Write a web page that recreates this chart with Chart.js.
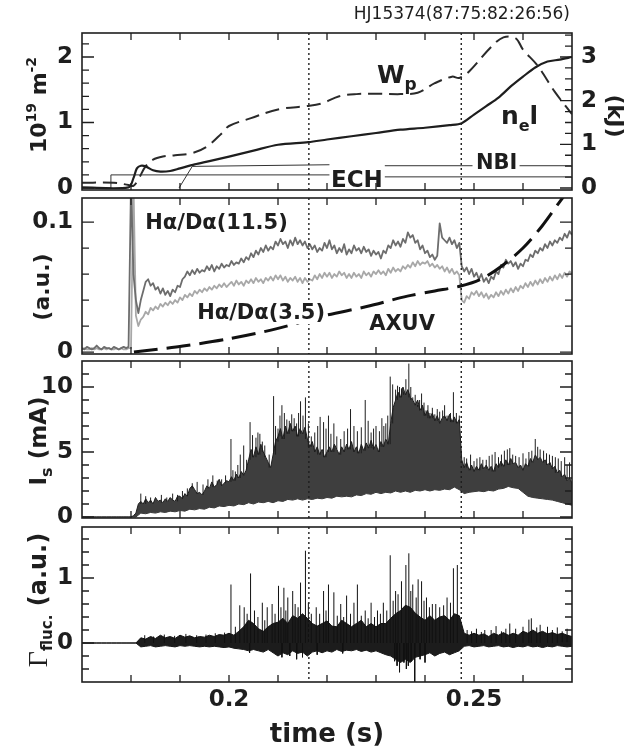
<!DOCTYPE html>
<html><head><meta charset="utf-8">
<script src="https://cdn.jsdelivr.net/npm/chart.js@4.4.1/dist/chart.umd.min.js"></script>
<style>
html,body{margin:0;padding:0;background:#fff;}
#wrap{position:relative;width:639px;height:751px;overflow:hidden;background:#fff;}
#wrap canvas{position:absolute;left:0;top:0;width:639px;height:751px;}
</style></head><body>
<div id="wrap">
<canvas id="c1" width="639" height="751"></canvas>
<canvas id="c2" width="639" height="751"></canvas>
<canvas id="c3" width="639" height="751"></canvas>
<canvas id="c4" width="639" height="751"></canvas>
</div>
<script>
// ---------------- shared time axis ----------------
const X_MIN = 0.17, X_MAX = 0.27;
const X_TICKS = [0.17,0.18,0.19,0.20,0.21,0.22,0.23,0.24,0.25,0.26,0.27];
const X_LABELED = [0.2, 0.25];
const MARKERS = [0.2163, 0.2474];            // dotted vertical lines (s)

// ---------------- panel 1 : line density / stored energy ----------------
const NEL_T = [0.170,0.1795,0.1805,0.1812,0.182,0.183,0.1845,0.186,0.188,0.190,
               0.193,0.196,0.200,0.205,0.210,0.2162,0.220,0.225,0.230,0.235,
               0.240,0.245,0.2475,0.250,0.2525,0.255,0.2575,0.260,0.2625,0.265,
               0.2675,0.270];
const NEL   = [0.01,0.01,0.15,0.30,0.34,0.33,0.27,0.25,0.26,0.30,
               0.36,0.41,0.48,0.57,0.66,0.70,0.74,0.79,0.84,0.89,
               0.92,0.96,0.99,1.12,1.25,1.38,1.55,1.70,1.84,1.93,
               1.96,2.00];
const WP_T  = [0.170,0.1765,0.1795,0.1805,0.1815,0.183,0.1845,0.1865,0.189,0.1925,
               0.1955,0.1985,0.200,0.2045,0.210,0.2162,0.219,0.2225,0.226,0.230,
               0.235,0.2385,0.242,0.2455,0.247,0.249,0.2535,0.256,0.2585,0.260,
               0.263,0.2665,0.270];
const WP    = [0.12,0.12,0.07,0.05,0.20,0.50,0.65,0.72,0.75,0.80,
               0.95,1.25,1.42,1.60,1.80,1.88,1.94,2.10,2.15,2.16,
               2.15,2.18,2.40,2.55,2.52,2.67,3.23,3.45,3.43,3.17,
               2.80,2.20,1.69];                 // kJ
const ECH_T = [0.170,0.1758,0.1759,0.2205,0.2260,0.2318,0.2699];
const ECH   = [0.0,0.0,0.20,0.20,null,0.17,0.17];
const NBI_T = [0.1898,0.1925,0.2205,0.2260,0.2318,0.2497,0.2545,0.2593,0.2699];
const NBI   = [0.0,0.33,0.355,null,0.34,0.34,null,0.34,0.34];
const P1_TICKS  = [0,0.2,0.4,0.6,0.8,1.0,1.2,1.4,1.6,1.8,2.0,2.2];
const P1_LABELS = [0,1,2];
const P1R_TICKS  = [0,0.25,0.5,0.75,1.0,1.25,1.5,1.75,2.0,2.25,2.5,2.75,3.0,3.25,3.5];
const P1R_LABELS = [0,1,2,3];

// ---------------- panel 2 : H-alpha / D-alpha, AXUV ----------------
const HA_T0 = 0.170, HA_DT = 0.0005;         // sampling of the two H-alpha traces
const HA115 = [ // x1e-3 a.u.
  3,2,4,3,2,3,5,3,2,4,   3,3,2,4,3,2,3,4,3,4,
  130,60,40,30,40,47,54,56,51,53,   48,50,45,49,44,47,43,48,46,51,
  50,56,58,62,59,63,60,64,61,63,   62,66,63,67,62,66,64,68,65,67,
  66,70,67,69,68,72,69,73,71,76,   73,78,75,80,77,82,78,81,79,85,
  82,87,83,85,80,86,82,88,83,86,   82,85,80,83,79,82,77,80,78,84,
  80,86,79,82,76,80,77,83,75,79,   76,82,78,80,76,81,77,79,74,78,
  75,77,72,78,76,82,80,86,82,85,   81,87,84,92,88,90,84,86,79,82,
  76,78,73,75,71,74,99,88,86,84,   88,83,86,80,84,66,62,65,60,64,
  58,61,56,60,54,57,53,58,56,62,   60,67,65,71,68,70,66,69,64,68,
  66,71,70,75,73,78,76,80,78,83,   80,85,82,86,84,88,86,91,88,93,
  90];
const HA35 = [ // x1e-3 a.u.
  2,3,2,2,3,2,3,2,2,3,   2,3,2,2,3,2,3,2,2,3,
  3,130,28,20,25,27,31,29,34,32,   35,33,37,35,38,36,39,37,40,38,
  42,40,44,42,45,43,47,45,48,46,   49,47,50,48,51,49,52,50,53,50,
  52,54,51,55,52,54,51,55,53,56,   53,57,54,56,53,57,55,58,55,59,
  56,59,55,58,54,57,55,58,54,57,   53,57,54,56,55,59,56,60,57,61,
  58,61,57,60,58,62,59,61,57,60,   57,61,58,60,57,62,59,61,58,62,
  60,63,60,62,59,64,61,65,62,64,   62,66,64,67,65,69,66,70,67,69,
  68,70,66,68,65,67,64,66,62,65,   61,64,60,62,59,40,38,43,41,46,
  44,47,43,46,42,45,41,44,42,46,   43,47,44,48,45,49,46,50,47,51,
  49,53,50,54,51,55,52,56,53,57,   54,58,55,59,56,60,57,61,58,62,
  60];
const AXUV_T = [0.1806,0.1850,0.1906,0.2000,0.2098,0.2190,0.2281,0.2364,0.2420,0.2471,
                0.2514,0.2556,0.2600,0.2639,0.2673,0.2700];
const AXUV   = [0,0.002,0.0046,0.0102,0.018,0.0276,0.035,0.043,0.047,0.0506,
                0.056,0.066,0.080,0.097,0.1146,0.128];
const P2_TICKS  = [0,0.02,0.04,0.06,0.08,0.1];
const P2_LABELS = [0,0.1];

// ---------------- panel 3 : ion saturation current (mA) ----------------
const IS_T0 = 0.170, IS_DT = 0.0005;         // band top sampling
const IS_UPPER = [
  0,0,0,0,0,0,0,0,0,0, 0,0,0,0,0,0,0,0,0,0, 0,0.1,
  0.3,1.0,
  1.2,1.0,1.4,1.1,1.3,1.0,1.5,1.2,1.3,1.1,1.4,1.2,1.5,1.3,1.2,1.6,
  1.6,1.4,1.8,1.6,2.2,2.4,2.1,1.8,1.9,1.7,
  2.0,2.4,2.2,2.7,2.3,2.5,2.9,2.4,2.6,2.8,
  2.7,3.1,2.8,3.3,3.0,3.5,3.2,3.6,
  4.4,5.2,4.6,5.4,4.8,5.6,5.0,4.6,4.2,3.8,
  4.8,5.8,6.2,6.8,6.0,7.0,6.4,7.2,6.6,7.0,6.2,6.8,6.4,6.9,
  6.0,5.4,5.8,5.0,5.4,4.8,5.2,4.6,5.0,5.4,5.0,5.6,5.2,
  4.8,5.4,5.0,5.6,5.2,5.8,5.0,5.4,4.9,5.6,5.1,5.7,5.3,5.9,5.2,5.6,5.0,5.8,5.4,6.0,5.6,
  7.2,8.4,9.0,9.6,9.2,10.0,9.4,9.8,9.2,
  9.0,8.6,9.0,8.2,8.6,7.8,8.2,7.6,8.0,7.4,7.8,7.2,7.6,7.8,7.4,7.9,7.3,7.7,7.2,7.5,
  4.4,3.8,4.2,3.6,4.0,3.5,3.9,3.6,4.1,3.7,
  4.0,3.6,3.9,3.5,4.1,3.8,4.3,3.9,4.4,4.0,
  4.5,4.1,4.2,3.8,4.0,3.6,4.1,3.9,4.5,4.2,
  4.8,4.4,4.6,4.2,4.4,4.0,4.2,3.7,3.9,3.4,
  3.6,3.1,3.3,2.8,3.0,2.6];
const IS_LO_T0 = 0.170, IS_LO_DT = 0.001;    // band bottom sampling
const IS_LOWER = [
  0,0,0,0,0,0,0,0,0,0,0,0,
  0.3,0.25,0.35,0.3,0.4,0.35,0.45,0.4,0.5,0.45,
  0.6,0.55,0.65,0.6,0.75,0.7,0.85,0.8,0.9,0.85,
  1.0,0.95,1.1,1.0,1.15,1.1,1.2,1.1,1.25,1.2,
  1.35,1.3,1.4,1.3,1.4,1.35,1.45,1.4,1.5,1.45,
  1.6,1.55,1.6,1.55,1.7,1.65,1.8,1.75,1.9,1.8,
  1.9,1.85,2.0,1.9,2.0,1.9,2.05,2.0,2.1,2.0,
  2.1,2.05,2.15,2.1,2.3,2.1,1.8,1.9,1.95,2.0,
  1.95,2.05,2.0,2.15,2.2,2.35,2.25,2.2,1.9,1.6,
  1.5,1.45,1.4,1.35,1.3,1.2,1.1,1.0,0.9];
const IS_SPIKE_T = [
  0.1820,0.1840,0.1862,0.1885,0.1905,0.1925,0.1947,0.1967,0.1985,0.2004,
  0.2013,0.2023,0.2030,0.2043,0.2055,0.2063,0.2073,0.2091,0.2100,0.2108,
  0.2118,0.2128,0.2138,0.2146,0.2156,0.2168,0.2186,0.2193,0.2203,0.2214,
  0.2228,0.2248,0.2262,0.2278,0.2290,0.2300,0.2312,0.2320,0.2329,0.2340,
  0.2348,0.2356,0.2367,0.2375,0.2385,0.2393,0.2402,0.2410,0.2420,0.2430,
  0.2445,0.2458,0.2470,0.2485,0.2500,0.2512,0.2525,0.2537,0.2550,0.2562,
  0.2573,0.2585,0.2600,0.2612,0.2625,0.2635,0.2648,0.2660,0.2672,0.2685,0.2695];
const IS_SPIKE_TOP = [
  1.8,1.5,1.7,1.8,2.0,2.6,2.5,3.2,2.9,6.0,
  3.5,4.8,5.5,7.3,6.1,6.4,5.5,9.3,6.8,8.6,
  7.5,7.9,7.2,8.9,9.2,6.2,7.7,7.3,7.8,7.2,
  6.0,8.3,6.6,9.0,6.5,7.0,7.6,7.2,10.8,9.8,
  10.0,9.6,11.8,9.2,8.5,9.5,8.2,8.0,7.9,8.1,
  7.8,9.6,7.8,4.5,4.3,4.6,4.4,4.8,4.6,5.1,
  5.3,4.7,4.9,5.0,6.0,5.2,4.9,4.7,4.5,4.6,4.2];
const IS_FUZZ_T = [
  0.1830,0.1873,0.1895,0.1915,0.1935,0.1957,0.1976,0.1993,0.2008,0.2018,
  0.2036,0.2048,0.2059,0.2068,0.2082,0.2095,0.2104,0.2113,0.2123,0.2133,
  0.2142,0.2151,0.2162,0.2175,0.2181,0.2198,0.2208,0.2220,0.2235,0.2242,
  0.2255,0.2270,0.2284,0.2295,0.2307,0.2316,0.2324,0.2334,0.2344,0.2352,
  0.2361,0.2371,0.2380,0.2389,0.2398,0.2406,0.2415,0.2425,0.2436,0.2440,
  0.2452,0.2464,0.2480,0.2493,0.2506,0.2518,0.2531,0.2543,0.2556,0.2568,
  0.2579,0.2592,0.2606,0.2618,0.2630,0.2642,0.2654,0.2666,0.2678,0.2690];
const IS_FUZZ_TOP = [
  1.6,1.5,1.7,2.2,2.7,2.9,2.8,3.2,3.6,4.0,
  4.4,6.3,6.5,5.8,4.8,7.0,7.8,8.0,7.4,7.6,
  8.0,7.8,7.2,6.5,7.0,6.8,6.4,6.2,6.6,6.8,
  7.0,6.9,7.4,6.8,6.6,7.0,7.8,10.2,10.1,9.9,
  10.6,10.0,9.4,9.0,8.8,8.6,8.4,8.3,8.2,8.6,
  8.0,8.0,4.6,4.8,4.5,4.4,4.7,5.0,4.8,5.2,
  4.8,4.6,4.5,5.1,5.4,5.1,4.8,4.6,4.3,4.0];
const P3_TICKS  = [0,1,2,3,4,5,6,7,8,9,10,11];
const P3_LABELS = [0,5,10];

// ---------------- panel 4 : fluctuation-driven flux ----------------
const GF_T0 = 0.170, GF_DT = 0.001;
const GF_UPPER = [
  0,0,0,0,0,0,0,0,0,0,0,0,
  0.08,0.06,0.10,0.07,0.12,0.08,0.10,0.07,0.12,0.09,
  0.11,0.08,0.10,0.09,0.12,0.10,0.13,0.12,0.15,0.12,
  0.18,0.25,0.35,0.30,0.22,0.18,0.25,0.30,0.32,0.38,
  0.30,0.42,0.38,0.45,0.38,0.30,0.26,0.30,0.34,0.26,
  0.25,0.35,0.30,0.25,0.30,0.35,0.25,0.30,0.25,0.30,
  0.30,0.38,0.45,0.50,0.58,0.55,0.46,0.40,0.35,0.42,
  0.35,0.40,0.42,0.35,0.45,0.42,0.15,0.12,0.15,0.12,
  0.14,0.10,0.15,0.12,0.16,0.12,0.15,0.12,0.18,0.15,
  0.20,0.15,0.18,0.14,0.16,0.13,0.15,0.12,0.10];
const GF_LOWER = [
  0,0,0,0,0,0,0,0,0,0,0,0,
  -0.06,-0.05,-0.04,-0.06,-0.05,-0.04,-0.05,-0.06,-0.04,-0.05,
  -0.04,-0.05,-0.06,-0.05,-0.06,-0.05,-0.06,-0.07,-0.06,-0.08,
  -0.09,-0.10,-0.12,-0.10,-0.12,-0.14,-0.10,-0.15,-0.20,-0.15,
  -0.18,-0.12,-0.16,-0.14,-0.20,-0.14,-0.12,-0.15,-0.12,-0.14,
  -0.10,-0.13,-0.11,-0.12,-0.10,-0.13,-0.11,-0.14,-0.12,-0.15,
  -0.18,-0.20,-0.25,-0.30,-0.25,-0.30,-0.22,-0.20,-0.18,-0.15,
  -0.20,-0.16,-0.14,-0.18,-0.15,-0.12,-0.05,-0.04,-0.06,-0.05,
  -0.04,-0.06,-0.05,-0.04,-0.06,-0.05,-0.07,-0.05,-0.06,-0.04,
  -0.06,-0.05,-0.07,-0.05,-0.06,-0.04,-0.05,-0.06,-0.05];
const GF_SPIKE_T = [
  0.2004,0.2022,0.2031,0.2044,0.2052,0.2068,0.2078,0.2088,0.2101,0.2112,
  0.2120,0.2124,0.2130,0.2146,0.2150,0.2156,0.2162,0.2178,0.2193,0.2203,
  0.2214,0.2228,0.2240,0.2255,0.2262,0.2278,0.2290,0.2303,0.2315,0.2329,
  0.2340,0.2348,0.2352,0.2357,0.2361,0.2366,0.2367,0.2375,0.2379,0.2386,
  0.2393,0.2403,0.2415,0.2430,0.2445,0.2458,0.2466,0.2486,0.2505,0.2522,
  0.2545,0.2565,0.2573,0.2600,0.2612,0.2617,0.2635,0.2650,0.2670,0.2690];
const GF_SPIKE_Y = [
  0.90,0.58,0.55,1.07,0.50,0.62,0.55,0.60,0.88,0.85,
  0.70,-0.20,0.80,0.93,-0.22,1.42,0.62,0.55,0.80,0.90,
  0.78,0.60,0.73,0.62,0.90,0.50,0.62,0.50,0.62,1.35,
  0.80,-0.45,0.95,-0.30,1.20,-0.35,1.38,0.90,-0.70,0.98,
  0.95,0.70,0.60,0.55,0.70,1.15,1.20,0.20,0.22,0.20,
  0.26,0.22,0.30,0.25,0.36,0.38,0.28,0.25,0.24,0.22];
const GF_FUZZ_T = [
  0.1828,0.1846,0.1868,0.1889,0.1912,0.1934,0.1953,0.1972,0.1991,0.2013,
  0.2037,0.2059,0.2073,0.2094,0.2106,0.2116,0.2135,0.2141,0.2168,0.2185,
  0.2198,0.2221,0.2234,0.2248,0.2270,0.2284,0.2297,0.2309,0.2322,0.2335,
  0.2345,0.2371,0.2382,0.2398,0.2409,0.2422,0.2438,0.2452,0.2495,0.2515,
  0.2535,0.2556,0.2585,0.2628,0.2660,0.2680,
  0.2042,0.2108,0.2138,0.2180,0.2232,0.2338,0.2343,0.2362,0.2372,0.2390,0.2400];
const GF_FUZZ_Y = [
  0.12,0.10,0.13,0.11,0.14,0.12,0.13,0.15,0.16,0.25,
  0.45,0.40,0.35,0.45,0.55,0.50,0.60,0.55,0.45,0.45,
  0.50,0.42,0.40,0.45,0.42,0.38,0.40,0.45,0.50,0.65,
  0.75,0.80,0.70,0.65,0.55,0.60,0.58,0.62,0.18,0.17,
  0.20,0.18,0.22,0.24,0.20,0.18,
  -0.15,-0.22,-0.25,-0.18,-0.16,-0.28,-0.35,-0.40,-0.28,-0.25,-0.30];
const P4_TICKS  = [-0.4,-0.2,0,0.2,0.4,0.6,0.8,1.0,1.2,1.4,1.6];
const P4_LABELS = [0,1];

// ---------------- helpers ----------------
Chart.defaults.font.family = "'DejaVu Sans', sans-serif";
const INK = '#1e1e1e';
const FONT = (size, weight = 'bold', fam = "'DejaVu Sans'") => `${weight} ${size}px ${fam}`;
const fmt = v => String(+v.toFixed(4));
const hasLabel = (list, v) => list.some(l => Math.abs(l - v) < 1e-9);
const pts = (ts, ys) => ts.map((t, i) => ({x: t, y: ys[i]}));
const series = (t0, dt, arr, k = 1) => arr.map((v, i) => ({x: t0 + i * dt, y: v == null ? null : v * k}));
// vertical spike segments; each one starts at a base value (a number, or a lookup function)
const spikes = (ts, ys, base) => {
  const out = [];
  ts.forEach((t, i) => {
    const b = typeof base === 'function' ? base(t) : base;
    out.push({x: t, y: b}, {x: t, y: ys[i]}, {x: t, y: null});
  });
  return out;
};
// band-top value read at the samples bracketing t (lookup of the read values)
const isTopAt = t => {
  const k = (t - IS_T0) / IS_DT;
  return Math.min(IS_UPPER[Math.floor(k)], IS_UPPER[Math.ceil(k)]);
};

function yAxis(pos, min, max, ticks, labels, width) {
  return {
    type: 'linear', position: pos, min, max, bounds: 'data',
    grid: {display: false, drawTicks: false}, border: {display: false},
    afterBuildTicks(s) { s.ticks = ticks.map(v => ({value: v})); },
    afterFit(s) { s.width = width; },
    ticks: {autoSkip: false, padding: 9, color: INK, font: {size: 23, weight: 'bold'},
      callback: v => hasLabel(labels, v) ? fmt(v) : ''}
  };
}
function xAxis(show) {
  const ax = {
    type: 'linear', min: X_MIN, max: X_MAX, bounds: 'data', offset: false, display: show,
    grid: {display: false, drawTicks: false}, border: {display: false},
    afterBuildTicks(s) { s.ticks = X_TICKS.map(v => ({value: v})); },
    ticks: {autoSkip: false, maxRotation: 0, minRotation: 0, padding: 4, color: INK,
      font: {size: 23, weight: 'bold'}, callback: v => hasLabel(X_LABELED, v) ? fmt(v) : ''},
    title: {display: show, text: 'time (s)', color: INK,
      font: {size: 26, weight: 'bold', lineHeight: 1.2}, padding: {top: 0, bottom: 0}}
  };
  if (show) ax.afterFit = s => { s.height = 69; };
  return ax;
}
function drawRich(ctx, parts, x, y, align, rot, bg) {
  ctx.save();
  ctx.translate(x, y);
  if (rot) ctx.rotate(rot);
  ctx.textBaseline = 'middle';
  let w = 0;
  parts.forEach(p => { ctx.font = p[1]; w += ctx.measureText(p[0]).width; });
  let cx = align === 'center' ? -w / 2 : (align === 'right' ? -w : 0);
  if (bg) { ctx.fillStyle = '#fff'; ctx.fillRect(cx - 2, -11, w + 4, 22); }
  ctx.fillStyle = INK;
  parts.forEach(p => { ctx.font = p[1]; ctx.fillText(p[0], cx, p[2] || 0); cx += ctx.measureText(p[0]).width; });
  ctx.restore();
}
function panelPlugin(texts) {
  return {
    id: 'panelDecor',
    afterDatasetsDraw(chart) {
      const {ctx, chartArea: a, scales} = chart;
      const xs = scales.x, ys = scales.y, rs = scales.y1 || scales.y;
      ctx.save();
      ctx.strokeStyle = INK;
      ctx.lineWidth = 1.4; ctx.setLineDash([2, 3]);
      MARKERS.forEach(t => {
        const px = xs.getPixelForValue(t);
        ctx.beginPath(); ctx.moveTo(px, a.top); ctx.lineTo(px, a.bottom); ctx.stroke();
      });
      ctx.setLineDash([]);
      ctx.lineWidth = 1.3;
      ctx.beginPath();
      X_TICKS.forEach(v => {
        if (v <= X_MIN + 1e-9 || v >= X_MAX - 1e-9) return;
        const px = xs.getPixelForValue(v);
        ctx.moveTo(px, a.top); ctx.lineTo(px, a.top + 7);
        ctx.moveTo(px, a.bottom); ctx.lineTo(px, a.bottom - 7);
      });
      ys.ticks.forEach(t => {
        const py = ys.getPixelForValue(t.value), L = t.label ? 12 : 7;
        ctx.moveTo(a.left, py); ctx.lineTo(a.left + L, py);
      });
      rs.ticks.forEach(t => {
        const py = rs.getPixelForValue(t.value), L = t.label ? 12 : 7;
        ctx.moveTo(a.right, py); ctx.lineTo(a.right - L, py);
      });
      ctx.stroke();
      ctx.lineWidth = 1.6;
      ctx.strokeRect(a.left, a.top, a.right - a.left, a.bottom - a.top);
      texts.forEach(tx => {
        let x, y;
        if (tx.data) { x = xs.getPixelForValue(tx.data[0]); y = scales[tx.axis || 'y'].getPixelForValue(tx.data[1]); }
        else { x = tx.page[0]; y = tx.page[1]; }
        drawRich(ctx, tx.parts, x, y, tx.align || 'left', tx.rot || 0, tx.bg);
      });
      ctx.restore();
    }
  };
}
function makeChart(id, datasets, padding, scales, texts) {
  return new Chart(document.getElementById(id), {
    type: 'line',
    data: {datasets},
    options: {
      responsive: false, animation: false, devicePixelRatio: 1, events: [],
      layout: {padding},
      scales,
      elements: {point: {radius: 0}, line: {borderJoinStyle: 'round'}},
      plugins: {legend: {display: false}, tooltip: {enabled: false}}
    },
    plugins: [panelPlugin(texts)]
  });
}

// ---------------- panel 1 ----------------
makeChart('c1', [
  {data: pts(NEL_T, NEL), borderColor: INK, borderWidth: 2.2, tension: 0.3, yAxisID: 'y'},
  {data: pts(WP_T, WP), borderColor: '#2a2a2a', borderWidth: 2, borderDash: [14, 7], tension: 0.35, yAxisID: 'y1'},
  {data: pts(NBI_T, NBI), borderColor: '#333', borderWidth: 1, yAxisID: 'y'},
  {data: pts(ECH_T, ECH), borderColor: '#333', borderWidth: 1, yAxisID: 'y'}
], {top: 33, bottom: 561, left: 0, right: 0}, {
  x: xAxis(false),
  y: yAxis('left', -0.0305, 2.366, P1_TICKS, P1_LABELS, 82),
  y1: yAxis('right', -0.046, 3.55, P1R_TICKS, P1R_LABELS, 67)
}, [
  {page: [570, 15], align: 'right', parts: [['HJ15374(87:75:82:26:56)', FONT(17, 'normal')]]},
  {page: [40, 105], align: 'center', rot: -Math.PI / 2,
   parts: [['10', FONT(22)], ['19', FONT(14), -8], [' m', FONT(22)], ['-2', FONT(14), -8]]},
  {page: [614, 116], align: 'center', rot: Math.PI / 2, parts: [['(kJ)', FONT(22)]]},
  {data: [0.2302, 1.695], parts: [['W', FONT(25)], ['p', FONT(17), 9]]},
  {data: [0.2555, 1.07], parts: [['n', FONT(25)], ['e', FONT(16), 9], ['l', FONT(25)]]},
  {data: [0.2504, 0.366], parts: [['NBI', FONT(21)]]},
  {data: [0.2208, 0.107], parts: [['ECH', FONT(23)]]}
]);

// ---------------- panel 2 ----------------
makeChart('c2', [
  {data: pts(AXUV_T, AXUV), borderColor: '#111', borderWidth: 3, borderDash: [24, 9], tension: 0.3},
  {data: series(HA_T0, HA_DT, HA115, 1e-3), borderColor: '#6d6d6d', borderWidth: 1.8},
  {data: series(HA_T0, HA_DT, HA35, 1e-3), borderColor: '#a8a8a8', borderWidth: 1.8}
], {top: 198, bottom: 397, left: 0, right: 67}, {
  x: xAxis(false),
  y: yAxis('left', -0.0015, 0.1185, P2_TICKS, P2_LABELS, 82)
}, [
  {page: [43, 287], align: 'center', rot: -Math.PI / 2, parts: [['(a.u.)', FONT(22)]]},
  {data: [0.1829, 0.0985], parts: [['H\u03b1/D\u03b1(11.5)', FONT(21)]]},
  {data: [0.1935, 0.030], parts: [['H\u03b1/D\u03b1(3.5)', FONT(21)]], bg: true},
  {data: [0.2286, 0.0208], parts: [['AXUV', FONT(21)]]}
]);

// ---------------- panel 3 ----------------
makeChart('c3', [
  {data: spikes(IS_SPIKE_T, IS_SPIKE_TOP, isTopAt), borderColor: INK, borderWidth: 1},
  {data: spikes(IS_FUZZ_T, IS_FUZZ_TOP, isTopAt), borderColor: INK, borderWidth: 1},
  {data: series(IS_T0, IS_DT, IS_UPPER), borderColor: INK, borderWidth: 1, fill: '+1', backgroundColor: '#3e3e3e'},
  {data: series(IS_LO_T0, IS_LO_DT, IS_LOWER), borderColor: '#333', borderWidth: 1}
], {top: 361, bottom: 233, left: 0, right: 67}, {
  x: xAxis(false),
  y: yAxis('left', -0.077, 12.0, P3_TICKS, P3_LABELS, 82)
}, [
  {page: [40, 441], align: 'center', rot: -Math.PI / 2,
   parts: [['I', FONT(23)], ['s', FONT(16), 8], [' (mA)', FONT(23)]]}
]);

// ---------------- panel 4 ----------------
makeChart('c4', [
  {data: spikes(GF_SPIKE_T, GF_SPIKE_Y, 0), borderColor: '#111', borderWidth: 1},
  {data: spikes(GF_FUZZ_T, GF_FUZZ_Y, 0), borderColor: '#111', borderWidth: 1},
  {data: series(GF_T0, GF_DT, GF_UPPER), borderColor: '#111', borderWidth: 1, fill: '+1', backgroundColor: '#1c1c1c'},
  {data: series(GF_T0, GF_DT, GF_LOWER), borderColor: '#111', borderWidth: 1}
], {top: 527, bottom: 0, left: 0, right: 67}, {
  x: xAxis(true),
  y: yAxis('left', -0.6, 1.785, P4_TICKS, P4_LABELS, 82)
}, [
  {page: [40, 600], align: 'center', rot: -Math.PI / 2,
   parts: [['\u0393', "normal 28px 'Liberation Serif'"], ['fluc.', FONT(15), 8], [' (a.u.)', FONT(24)]]}
]);
</script>
</body></html>
